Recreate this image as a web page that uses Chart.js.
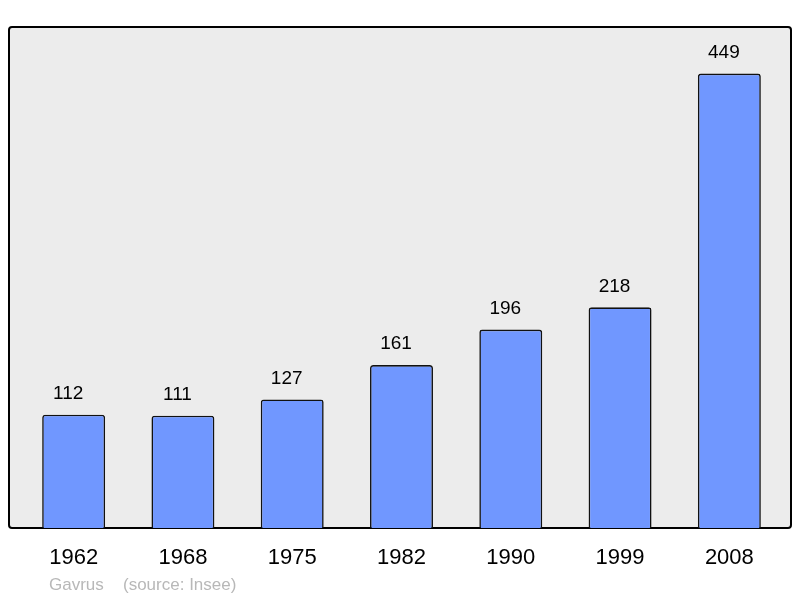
<!DOCTYPE html>
<html>
<head>
<meta charset="utf-8">
<script src="https://cdn.jsdelivr.net/npm/chart.js@4"></script>
<style>
  html, body { margin: 0; padding: 0; background: #fff; }
  #wrap { width: 800px; height: 598px; }
</style>
</head>
<body>
<div id="wrap"><canvas id="grafico" width="800" height="598"></canvas></div>
<script>
const annees = ["1962", "1968", "1975", "1982", "1990", "1999", "2008"];
const population = [112, 111, 127, 161, 196, 218, 449];
const auteur = "Gavrus";
const source = "(source: Insee)";

const ctx = document.getElementById('grafico').getContext('2d');

// fond gris + cadre noir arrondi autour de la zone du graphique
const cadre = {
    id: 'cadre',
    beforeDatasetsDraw(chart) {
        const a = chart.chartArea;
        const c = chart.ctx;
        const x0 = a.left - 10, x1 = a.right + 7;
        c.save();
        c.beginPath();
        c.roundRect(x0, a.top, x1 - x0, a.bottom - a.top, 3);
        c.fillStyle = '#ececec';
        c.fill();
        c.lineWidth = 2;
        c.strokeStyle = '#000';
        c.stroke();
        c.restore();
    },
    afterDraw(chart) {
        const c = chart.ctx;
        c.save();
        c.font = '17px "Liberation Sans", Arial, sans-serif';
        c.fillStyle = '#b8b8b8';
        c.textBaseline = 'middle';
        c.textAlign = 'left';
        c.fillText(auteur, 49, 585);
        c.fillText(source, 123, 585);
        c.restore();
    }
};

// valeurs au-dessus des barres
const valeurs = {
    id: 'valeurs',
    afterDatasetsDraw(chart) {
        const c = chart.ctx;
        const meta = chart.getDatasetMeta(0);
        c.save();
        c.font = '19px "Liberation Sans", Arial, sans-serif';
        c.fillStyle = '#000';
        c.textAlign = 'center';
        c.textBaseline = 'middle';
        meta.data.forEach((bar, i) => {
            c.fillText(String(population[i]), bar.x - 5.5, bar.y - 21);
        });
        c.restore();
    }
};

new Chart(ctx, {
    type: 'bar',
    data: {
        labels: annees,
        datasets: [{
            data: population,
            backgroundColor: '#7097ff',
            borderColor: '#111',
            borderWidth: 1.6,
            borderRadius: 3,
            borderSkipped: 'bottom',
            barPercentage: 0.576,
            categoryPercentage: 1
        }]
    },
    options: {
        responsive: false,
        animation: false,
        layout: { padding: { left: 19, right: 16, top: 27, bottom: 0 } },
        plugins: {
            legend: { display: false },
            tooltip: { enabled: false }
        },
        scales: {
            x: {
                grid: { display: false, drawTicks: false },
                border: { display: false },
                ticks: {
                    color: '#000',
                    padding: 17,
                    font: { size: 22, family: '"Liberation Sans", Arial, sans-serif' }
                },
                afterFit(scale) { scale.height = 70; }
            },
            y: {
                display: false,
                min: 0,
                max: 495
            }
        }
    },
    plugins: [cadre, valeurs]
});
</script>
</body>
</html>
